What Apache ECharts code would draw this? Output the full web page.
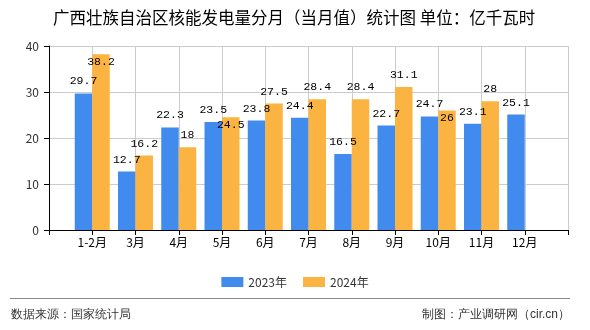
<!DOCTYPE html>
<html>
<head>
<meta charset="utf-8">
<script src="https://cdn.jsdelivr.net/npm/echarts@6/dist/echarts.min.js"></script>
<style>
html,body{margin:0;padding:0;background:#fff;}
#c{width:590px;height:330px;}
</style>
</head>
<body>
<div id="c"></div>
<script>
const categories = ['1-2月','3月','4月','5月','6月','7月','8月','9月','10月','11月','12月'];
const values2023 = [29.7, 12.7, 22.3, 23.5, 23.8, 24.4, 16.5, 22.7, 24.7, 23.1, 25.1];
const values2024 = [38.2, 16.2, 18, 24.5, 27.5, 28.4, 28.4, 31.1, 26, 28, null];
const seriesNames = ['2023年','2024年'];
const yTicks = [0, 10, 20, 30, 40];
// categories whose 2024 label sits inside the bar top (as in the reference)
const inside2024 = ['1-2月','5月','10月'];

const FONT = '"Noto Sans CJK SC", "Noto Sans", sans-serif';
const MONO = '"Liberation Mono", "DejaVu Sans Mono", monospace';

const axisData = [''].concat(categories, ['']);
function build(values, insideList) {
  const items = [null];
  values.forEach((v, i) => {
    if (v === null) { items.push(null); return; }
    const item = { value: v };
    if (insideList && insideList.indexOf(categories[i]) >= 0) {
      item.label = { position: 'insideTop', distance: 2 };
    }
    items.push(item);
  });
  items.push(null);
  return items;
}

const chart = echarts.init(document.getElementById('c'), null, { renderer: 'canvas' });
const labelCfg = {
  show: true, position: 'top', distance: 6,
  color: '#000', fontSize: 11.5, fontFamily: MONO
};
chart.setOption({
  backgroundColor: '#fff',
  animation: false,
  title: {
    text: '广西壮族自治区核能发电量分月（当月值）统计图 单位：亿千瓦时',
    left: 48, top: 4,
    textStyle: { fontSize: 16.5, fontWeight: 'normal', color: '#000', fontFamily: FONT }
  },
  legend: {
    data: seriesNames,
    left: 'center', top: 271,
    itemWidth: 22, itemHeight: 10, itemGap: 16,
    icon: 'rect',
    textStyle: { fontSize: 12, color: '#333', fontFamily: FONT }
  },
  grid: { left: 49, right: 22, top: 46, bottom: 100, containLabel: false },
  xAxis: {
    type: 'category',
    data: axisData,
    boundaryGap: false,
    axisLine: { show: true, lineStyle: { color: '#000', width: 1 } },
    axisTick: { show: true, interval: 0, length: 5, lineStyle: { color: '#000' } },
    axisLabel: { interval: 0, margin: 6, fontSize: 12, color: '#000', fontFamily: FONT },
    splitLine: { show: true, interval: 0, lineStyle: { color: '#cccccc', width: 1 } }
  },
  yAxis: {
    type: 'value',
    min: yTicks[0], max: yTicks[yTicks.length - 1], interval: 10,
    axisLine: { show: true, lineStyle: { color: '#000', width: 1 } },
    axisTick: { show: true, length: 5, lineStyle: { color: '#000' } },
    axisLabel: { margin: 10, fontSize: 12, color: '#333', fontFamily: FONT },
    splitLine: { show: true, lineStyle: { color: '#cccccc', width: 1 } }
  },
  series: [
    {
      name: seriesNames[0], type: 'bar',
      data: build(values2023, null),
      barWidth: 17.5, barGap: '0%',
      itemStyle: { color: '#418BEE' },
      label: labelCfg
    },
    {
      name: seriesNames[1], type: 'bar',
      data: build(values2024, inside2024),
      barWidth: 17.5, barGap: '0%',
      itemStyle: { color: '#FBB441' },
      label: labelCfg
    }
  ],
  graphic: [
    { type: 'line', shape: { x1: 10, y1: 298.5, x2: 570, y2: 298.5 },
      style: { stroke: '#888', lineWidth: 1 } },
    { type: 'text', left: 11, top: 309,
      style: { text: '数据来源：国家统计局', fontSize: 12, fill: '#333', font: '12px ' + FONT } },
    { type: 'text', right: 20, top: 309,
      style: { text: '制图：产业调研网（cir.cn）', fontSize: 12, fill: '#333', font: '12px ' + FONT } }
  ]
});
</script>
</body>
</html>
